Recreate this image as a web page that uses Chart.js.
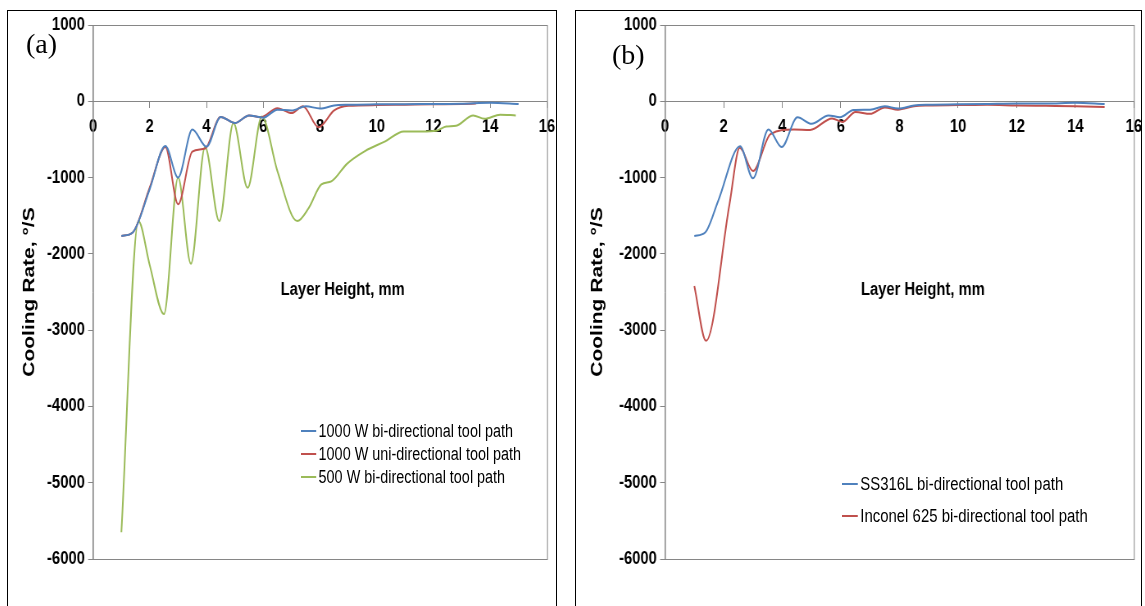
<!DOCTYPE html>
<html>
<head>
<meta charset="utf-8">
<script src="https://cdn.jsdelivr.net/npm/chart.js@4.4.0/dist/chart.umd.min.js"></script>
<style>
body { margin:0; background:#fff; width:1145px; height:606px; overflow:hidden; position:relative; }
.box { position:absolute; top:10px; height:620px; border:1.5px solid #000; border-bottom:none; box-sizing:border-box; }
#boxA { left:7px; width:550px; }
#boxB { left:575px; width:567px; }
/* la figure d'origine est compressée horizontalement : on fait pareil */
canvas { position:absolute; transform:scaleX(0.82); transform-origin:0 0; }
#cA { left:8px; top:11px; }
#cB { left:576px; top:11px; }
.tag { position:absolute; font-family:'Liberation Serif','Times New Roman',serif; font-size:28px; line-height:28px; }
.legend { position:absolute; font-family:'Liberation Sans',Arial,sans-serif; font-size:18px; transform:scaleX(0.8); transform-origin:0 0; }
#legB { transform:scaleX(0.83); }
.legend div { position:absolute; left:0; white-space:nowrap; line-height:20px; transform:translateY(-50%); }
.legend span { display:inline-block; width:19px; height:2px; vertical-align:middle; margin-right:3px; position:relative; top:-1px; }
</style>
</head>
<body>
<div class="box" id="boxA"></div>
<div class="box" id="boxB"></div>
<canvas id="cA" width="667" height="595"></canvas>
<canvas id="cB" width="695" height="595"></canvas>
<div class="tag" style="left:26px;top:30px;">(a)</div>
<div class="tag" style="left:612px;top:41px;">(b)</div>
<div class="legend" id="legA" style="left:301px;top:0;"></div>
<div class="legend" id="legB" style="left:842px;top:0;"></div>
<script>
// ===== DONNEES =====
// Panneau (a)
var blueAX = [1, 1.4, 2, 2.55, 3, 3.5, 4, 4.5, 5, 5.5, 6, 6.5, 7, 7.5, 8, 8.5, 9, 10, 11, 12, 13, 14, 15];
var blueAY = [-1765, -1720, -1150, -585, -1000, -370, -595, -205, -285, -185, -215, -110, -120, -65, -95, -55, -45, -40, -38, -35, -32, -20, -35];
var redAX = [1, 1.4, 2, 2.55, 3, 3.5, 3.95, 4.5, 5, 5.5, 5.9, 6.5, 7, 7.4, 7.95, 8.5, 9, 10, 11, 12, 13, 13.5];
var redAY = [-1765, -1720, -1130, -600, -1350, -660, -620, -205, -285, -185, -210, -90, -155, -65, -340, -120, -60, -50, -45, -40, -35, -30];
var greenAX = [1, 1.6, 2, 2.5, 3, 3.45, 3.95, 4.45, 4.95, 5.45, 5.95, 6.5, 7.2, 7.6, 8.05, 8.4, 8.95, 9.6, 10.3, 10.95, 11.6, 12.1, 12.45, 12.8, 13.4, 13.8, 14.35, 14.9];
var greenAY = [-5650, -1570, -2150, -2790, -1000, -2130, -600, -1570, -285, -1135, -200, -915, -1570, -1400, -1090, -1050, -820, -650, -525, -395, -395, -385, -330, -320, -185, -230, -175, -185];
var labelsA = ['1000 W bi-directional tool path', '1000 W uni-directional tool path', '500 W bi-directional tool path'];

// Panneau (b)
var blueBX = [1, 1.37, 1.82, 2.56, 3, 3.53, 3.98, 4.52, 5, 5.58, 5.97, 6.43, 7, 7.5, 7.95, 8.5, 9, 10, 11, 12, 13, 14, 15];
var blueBY = [-1765, -1720, -1300, -590, -1010, -370, -600, -210, -295, -185, -210, -115, -110, -65, -95, -55, -45, -40, -35, -30, -30, -20, -35];
var redBX = [1, 1.4, 2.2, 2.55, 3, 3.6, 4.4, 4.95, 5.7, 6.05, 6.5, 7, 7.5, 7.95, 8.5, 9, 10, 11, 12, 13, 14, 15];
var redBY = [-2420, -3140, -1350, -610, -915, -430, -370, -375, -225, -270, -140, -165, -80, -110, -65, -55, -50, -45, -55, -60, -65, -75];
var labelsB = ['SS316L bi-directional tool path', 'Inconel 625 bi-directional tool path'];

// Axes
var xTicks = [0, 2, 4, 6, 8, 10, 12, 14, 16];
var yTicks = [1000, 0, -1000, -2000, -3000, -4000, -5000, -6000];

var BLUE = '#4F81BD', RED = '#C0504D', GREEN = '#9BBB59', GRIS = '#868686';
var SANS = "'Liberation Sans', Arial, sans-serif";
var SX = 0.82; // compression horizontale du canvas

function points(xs, ys) {
    return xs.map(function (x, i) { return { x: x, y: ys[i] }; });
}

// cadre de la zone de tracé + titre "Layer Height, mm" au milieu
var cadre = {
    id: 'cadre',
    afterDraw: function (chart) {
        var a = chart.chartArea, ctx = chart.ctx;
        ctx.save();
        ctx.strokeStyle = GRIS;
        ctx.lineWidth = 1;
        ctx.strokeRect(a.left + 0.5, a.top + 0.5, a.right - a.left, a.bottom - a.top);
        ctx.fillStyle = '#000';
        ctx.font = 'bold 18px ' + SANS;
        ctx.textAlign = 'center';
        ctx.textBaseline = 'middle';
        ctx.fillText('Layer Height, mm', chart.scales.x.getPixelForValue(8.8), chart.scales.y.getPixelForValue(-2480));
        ctx.restore();
    }
};

// on supprime les marges ajoutées par Chart.js pour les étiquettes en bout d'axe
function sansMarge(s) {
    s.paddingLeft = 0; s.paddingRight = 0; s.paddingTop = 0; s.paddingBottom = 0;
}

function makeChart(id, datasets, yWidth, padRight) {
    return new Chart(document.getElementById(id), {
        type: 'line',
        data: { datasets: datasets },
        plugins: [cadre],
        options: {
            responsive: false,
            animation: false,
            layout: { padding: { left: 0, top: 14, right: padRight / SX, bottom: 47 } },
            elements: { point: { radius: 0 }, line: { borderWidth: 2, cubicInterpolationMode: 'monotone' } },
            plugins: { legend: { display: false }, tooltip: { enabled: false } },
            scales: {
                x: {
                    type: 'linear', min: 0, max: 16,
                    position: { y: 0 },
                    afterBuildTicks: function (s) { s.ticks = xTicks.map(function (v) { return { value: v }; }); },
                    afterFit: sansMarge,
                    ticks: { color: '#000', font: { family: SANS, size: 18, weight: 'bold' }, padding: 9,
                             callback: function (v) { return String(v); } },
                    grid: { drawOnChartArea: false, tickLength: 6, color: GRIS },
                    border: { color: GRIS }
                },
                y: {
                    type: 'linear', min: -6000, max: 1000,
                    afterBuildTicks: function (s) { s.ticks = yTicks.map(function (v) { return { value: v }; }); },
                    afterFit: function (s) { s.width = yWidth / SX; sansMarge(s); },
                    ticks: { color: '#000', font: { family: SANS, size: 18, weight: 'bold' }, padding: 4,
                             callback: function (v) { return String(v); } },
                    grid: { drawOnChartArea: false, tickLength: 6, color: GRIS },
                    border: { color: GRIS },
                    title: { display: true, text: 'Cooling Rate, °/S', color: '#000',
                             font: { family: SANS, size: 21, weight: 'bold' },
                             padding: { top: 14, bottom: 0 } }
                }
            }
        }
    });
}

function serie(label, xs, ys, color) {
    return { label: label, data: points(xs, ys), borderColor: color, backgroundColor: color, fill: false };
}

var chartA = makeChart('cA', [
    serie(labelsA[0], blueAX, blueAY, BLUE),
    serie(labelsA[1], redAX, redAY, RED),
    serie(labelsA[2], greenAX, greenAY, GREEN)
], 85, 8);

var chartB = makeChart('cB', [
    serie(labelsB[0], blueBX, blueBY, BLUE),
    serie(labelsB[1], redBX, redBY, RED)
], 89, 12);

// ===== LEGENDES HTML =====
function legende(id, chart, tops) {
    var el = document.getElementById(id);
    chart.data.datasets.forEach(function (ds, i) {
        var d = document.createElement('div');
        d.style.top = tops[i] + 'px';
        d.innerHTML = '<span style="background:' + ds.borderColor + '"></span>' + ds.label;
        el.appendChild(d);
    });
}
legende('legA', chartA, [431, 454, 477]);
legende('legB', chartB, [484, 516]);
</script>
</body>
</html>
